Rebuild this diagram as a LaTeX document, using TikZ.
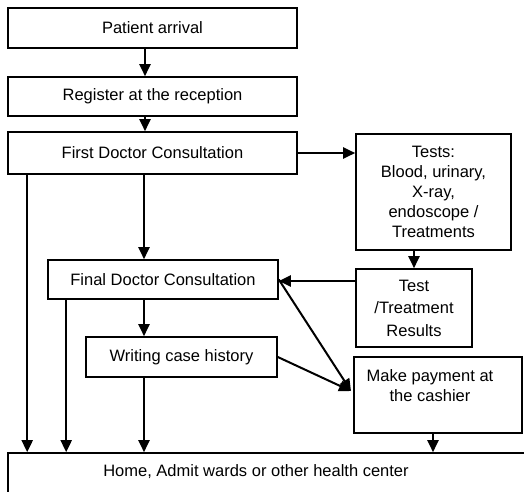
\documentclass[tikz,border=0pt]{standalone}
\usepackage{fontspec}
\setmainfont{Liberation Sans}
\usetikzlibrary{arrows.meta}
\begin{document}
\begin{tikzpicture}[x=1pt,y=-1pt,
  box/.style={draw, line width=1.6pt, rectangle, inner sep=0pt, align=center,
    font=\fontsize{16.5}{20}\selectfont},
  arr/.style={line width=2pt, -{Triangle[length=12pt,width=11pt]}},
  txt/.style={font=\fontsize{16.5}{20}\selectfont, align=center}]
\useasboundingbox (0,0) rectangle (524,491);
\clip (0,0) rectangle (524,491);

% process boxes
\node[box, minimum width=289pt, minimum height=40pt] (arrival) at (152.5,28) {Patient arrival};
\node[box, minimum width=289pt, minimum height=39pt] (register) at (152.5,96.5) {Register at the reception};
\node[box, minimum width=289pt, minimum height=42pt] (first) at (152.5,153) {First Doctor Consultation};
\node[box, minimum width=155pt, minimum height=116pt] (tests) at (433.5,192)
  {Tests:\\Blood, urinary,\\X-ray,\\endoscope /\\Treatments};
\node[box, minimum width=116pt, minimum height=78pt, font=\fontsize{16.5}{22.5}\selectfont] (results) at (414,308)
  {Test\\/Treatment\\Results};
\node[box, minimum width=230pt, minimum height=39pt] (final) at (163,279.5) {Final Doctor Consultation};
\node[box, minimum width=191pt, minimum height=40pt] (writing) at (181.5,357) {Writing case history};
\node[box, minimum width=168pt, minimum height=76pt] (payment) at (438,395) {};
\node[txt, anchor=north] (paytext) at (430,366) {Make payment at\\the cashier};
\node[box, minimum width=524pt, minimum height=44pt] (home) at (270,475) {};
\node[txt] (hometext) at (256,472) {Home, Admit wards or other health center};

% meeting point of the two arrows into the payment box
\coordinate (payin) at (351,391);

% connectors
\draw[arr] ([xshift=-7.5pt]arrival.south) -- ([xshift=-7.5pt]register.north);
\draw[arr] ([xshift=-7.5pt]register.south) -- ([xshift=-7.5pt]first.north);
\draw[arr] (first.east) -- (tests.west |- first.east);
\draw[arr] ([xshift=-8.5pt]first.south) -- ([xshift=-19pt]final.north);
\draw[arr] ([xshift=20pt]first.south west) -- ([xshift=20pt]first.south west |- home.north);
\draw[arr] (tests.south -| results.north) -- (results.north);
\draw[arr] ([yshift=-1.5pt]results.west |- final.east) -- ([yshift=-1.5pt]final.east);
\draw[arr] ([xshift=19pt]final.south west) -- ([xshift=19pt]final.south west |- home.north);
\draw[arr] ([xshift=-19pt]final.south) -- ([xshift=-19pt]final.south |- writing.north);
\draw[arr] ([xshift=-37.5pt]writing.south) -- ([xshift=-37.5pt]writing.south |- home.north);
\draw[arr] (final.east) -- (payin);
\draw[arr] (writing.east) -- (payin);
\draw[arr] ([xshift=-5pt]payment.south) -- ([xshift=-5pt]payment.south |- home.north);
\end{tikzpicture}
\end{document}
